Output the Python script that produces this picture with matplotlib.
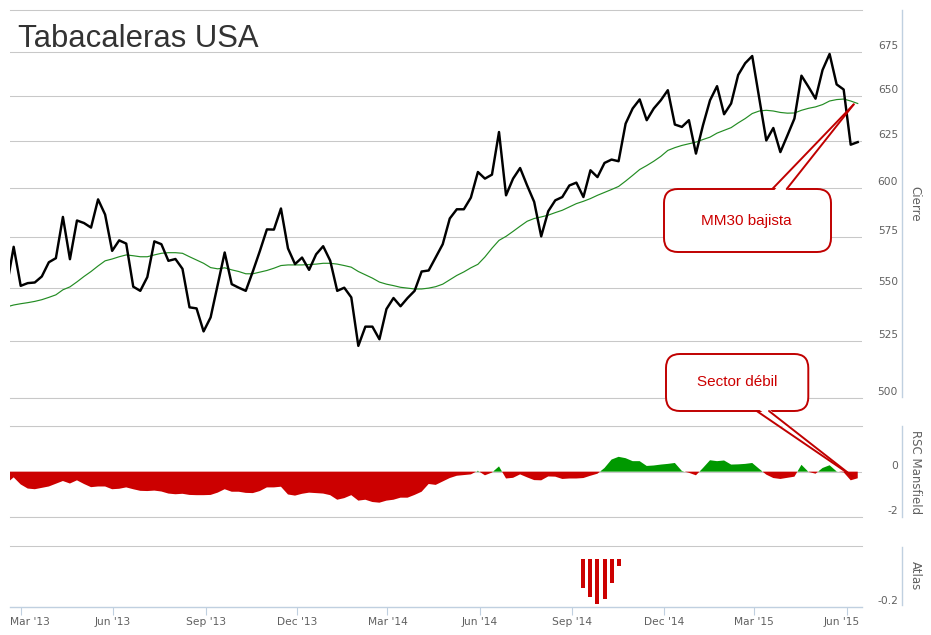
import matplotlib
matplotlib.use('Agg')
import matplotlib.pyplot as plt
import matplotlib.transforms as mtrans
from matplotlib.patches import FancyBboxPatch, Polygon
from matplotlib.lines import Line2D
from matplotlib.ticker import FixedLocator, NullLocator, NullFormatter
import numpy as np
import pandas as pd
from datetime import datetime, timedelta

# ---------------- data (weekly) ----------------
dates = pd.date_range('2013-02-15', periods=122, freq='7D')

close = [550.3,
         570.0, 551.0, 552.3, 552.6, 555.5, 562.4, 564.4, 585.0, 563.9, 583.2,
         581.9, 579.6, 594.0, 586.2, 568.0, 573.2, 571.6, 550.6, 548.6, 555.2,
         572.7, 571.3, 563.1, 564.0, 559.2, 540.8, 540.3, 529.6, 536.1, 551.4,
         567.2, 551.8, 550.1, 548.6, 557.9, 567.9, 578.7, 578.6, 589.3, 569.2,
         561.5, 564.7, 558.7, 566.3, 570.3, 563.2, 548.6, 550.1, 545.5, 523.0,
         531.8, 531.8, 526.0, 540.0, 545.2, 541.3, 545.2, 548.6, 557.9, 558.4,
         564.8, 571.3, 584.2, 588.9, 588.9, 594.9, 608.3, 604.8, 606.9, 629.8,
         596.1, 604.8, 610.4, 601.2, 592.7, 575.2, 587.9, 593.5, 595.2, 601.2,
         602.7, 595.2, 609.2, 605.6, 613.1, 614.9, 614.0, 634.4, 642.8, 647.9,
         636.3, 642.8, 647.4, 653.1, 633.9, 632.6, 636.3, 618.1, 633.5, 647.4,
         655.4, 639.6, 645.6, 661.8, 668.6, 672.8, 648.5, 625.2, 632.0, 618.9,
         627.9, 637.2, 661.4, 655.0, 648.3, 664.7, 674.0, 656.4, 653.5, 622.9,
         624.3]

mm30 = [541.0,
        541.9, 542.5, 543.0, 543.6, 544.4, 545.5, 546.7, 549.1, 550.5, 552.9,
        555.5, 557.9, 560.6, 563.1, 564.0, 565.1, 566.0, 565.6, 565.1, 565.1,
        566.0, 566.8, 567.1, 567.1, 566.8, 565.1, 563.5, 561.9, 559.8, 559.2,
        559.7, 558.7, 557.9, 556.8, 556.8, 557.6, 558.4, 559.5, 560.8, 561.1,
        561.1, 561.1, 561.3, 561.5, 561.9, 561.9, 561.5, 560.8, 560.0, 557.9,
        556.3, 554.7, 552.8, 551.8, 551.1, 550.3, 549.9, 549.5, 549.5, 549.9,
        550.6, 551.8, 553.9, 556.0, 557.7, 559.7, 561.4, 565.0, 569.3, 573.2,
        575.2, 577.7, 580.3, 582.8, 584.2, 585.0, 585.9, 587.2, 588.4, 590.1,
        591.8, 593.0, 594.4, 596.1, 597.6, 599.1, 600.7, 603.5, 606.5, 609.6,
        611.7, 614.0, 616.6, 619.8, 621.3, 622.5, 623.4, 624.3, 625.7, 627.0,
        629.2, 630.7, 632.2, 634.8, 637.2, 640.0, 641.4, 641.8, 641.4, 640.6,
        640.2, 640.3, 641.8, 642.9, 643.7, 645.0, 647.0, 647.8, 648.1, 647.0,
        645.6]

rsc = [-0.51,
       -0.25, -0.56, -0.74, -0.77, -0.71, -0.65, -0.53, -0.41, -0.52, -0.38,
       -0.54, -0.68, -0.65, -0.65, -0.77, -0.75, -0.69, -0.77, -0.84, -0.85,
       -0.83, -0.87, -0.96, -0.99, -0.97, -1.02, -1.03, -1.03, -1.02, -0.92,
       -0.77, -0.88, -0.88, -0.93, -0.94, -0.85, -0.69, -0.69, -0.66, -1.00,
       -1.05, -0.97, -0.92, -0.94, -0.96, -1.03, -1.23, -1.16, -1.03, -1.27,
       -1.23, -1.33, -1.36, -1.27, -1.23, -1.14, -1.14, -1.02, -0.88, -0.54,
       -0.58, -0.43, -0.28, -0.18, -0.15, -0.12, 0.04, -0.16, -0.04, 0.23,
       -0.30, -0.27, -0.12, -0.25, -0.37, -0.38, -0.21, -0.22, -0.32, -0.30,
       -0.30, -0.28, -0.18, -0.09, 0.16, 0.53, 0.65, 0.59, 0.46, 0.46,
       0.25, 0.27, 0.31, 0.34, 0.38, 0.03, -0.05, -0.16, 0.16, 0.50,
       0.46, 0.49, 0.31, 0.32, 0.34, 0.38, 0.12, -0.13, -0.28, -0.32,
       -0.27, -0.22, 0.30, -0.01, -0.09, 0.16, 0.28, 0.01, -0.03, -0.38,
       -0.29]

atlas_dates = pd.date_range('2014-09-12', periods=6, freq='7D')
atlas_vals = [-0.122, -0.160, -0.189, -0.169, -0.101, -0.028]

price_ticks = [500, 525, 550, 575, 600, 625, 650, 675]
rsc_ticks = [0, -2]
rsc_labels = ['0', '-2']
atlas_ticks = [-0.2]
atlas_labels = ['-0.2']
xtick_dates = [datetime(2013, 3, 1), datetime(2013, 6, 1), datetime(2013, 9, 1),
               datetime(2013, 12, 1), datetime(2014, 3, 1), datetime(2014, 6, 1),
               datetime(2014, 9, 1), datetime(2014, 12, 1), datetime(2015, 3, 1),
               datetime(2015, 6, 1)]
xtick_labels = ["Mar '13", "Jun '13", "Sep '13", "Dec '13", "Mar '14",
                "Jun '14", "Sep '14", "Dec '14", "Mar '15", "Jun '15"]

close = np.array(close)
mm30 = np.array(mm30)
rsc = np.array(rsc)

# ---------------- figure ----------------
W, H = 931, 635
fig = plt.figure(figsize=(W / 100, H / 100), dpi=100)
fig.patch.set_facecolor('white')

GRID = '#C8C8C8'
AXIS = '#C0D0E0'
LABEL = '#606060'
RED = '#CC0000'
GREEN = '#009900'
TICKFS = 7.7


def px_axes(x0, y0, x1, y1):
    return fig.add_axes([x0 / W, 1 - y1 / H, (x1 - x0) / W, (y1 - y0) / H])


ax = px_axes(10, 10.4, 862, 397.6)
ax_rsc = px_axes(10, 426, 862, 517.3)
ax_atl = px_axes(10, 545.7, 862, 606.7)

xmin = datetime(2013, 2, 18, 8, 24)
xmax = xmin + timedelta(days=847.9)

for a in (ax, ax_rsc, ax_atl):
    a.set_xlim(xmin, xmax)
    a.set_facecolor('none')
    for s in ('left', 'right'):
        a.spines[s].set_visible(False)
    a.set_axisbelow(True)
    a.tick_params(axis='y', left=False, right=False, labelleft=False, labelright=False)

for a in (ax, ax_rsc):
    a.tick_params(axis='x', bottom=False, labelbottom=False)
    a.set_xticks(xtick_dates)
    a.xaxis.set_major_formatter(NullFormatter())
    for s in ('top', 'bottom'):
        a.spines[s].set_color(GRID)
        a.spines[s].set_linewidth(0.75)


def right_labels(a, vals, labels):
    tr = mtrans.blended_transform_factory(a.transAxes, a.transData) + \
        mtrans.ScaledTranslation(0, 0.06, fig.dpi_scale_trans)
    xr = 1 + 36.0 / 852.0
    for v, l in zip(vals, labels):
        a.text(xr, v, l, transform=tr, ha='right', va='center',
               fontsize=TICKFS, color=LABEL, family='DejaVu Sans')


# ---- main price panel ----
ax.set_yscale('log')
ax.set_ylim(500, 700)
ax.yaxis.set_major_locator(FixedLocator(price_ticks))
ax.yaxis.set_minor_locator(NullLocator())
ax.yaxis.set_major_formatter(NullFormatter())
ax.yaxis.set_minor_formatter(NullFormatter())
ax.grid(axis='y', color=GRID, lw=0.75)
ax.plot(dates, mm30, color='#238C23', lw=0.85, zorder=3)
ax.plot(dates, close, color='black', lw=1.75, zorder=4)
right_labels(ax, price_ticks, [str(v) for v in price_ticks])

# ---- RSC Mansfield panel ----
ax_rsc.set_ylim(-2, 2)
ax_rsc.set_yticks([-2, 0, 2])
ax_rsc.yaxis.set_major_formatter(NullFormatter())
ax_rsc.grid(axis='y', color=GRID, lw=0.75)
ax_rsc.fill_between(dates, rsc, 0, where=rsc >= 0, interpolate=True,
                    color=GREEN, lw=0, zorder=3)
ax_rsc.fill_between(dates, rsc, 0, where=rsc <= 0, interpolate=True,
                    color=RED, lw=0, zorder=3)
right_labels(ax_rsc, rsc_ticks, rsc_labels)

# ---- Atlas panel ----
ax_atl.set_ylim(-0.2, 0.0574)
ax_atl.set_yticks([])
ax_atl.spines['top'].set_color(GRID)
ax_atl.spines['top'].set_linewidth(0.75)
ax_atl.spines['bottom'].set_color(AXIS)
ax_atl.spines['bottom'].set_linewidth(1.0)
ax_atl.bar(atlas_dates, atlas_vals, width=4.0, color=RED, lw=0, zorder=3)
right_labels(ax_atl, atlas_ticks, atlas_labels)

ax_atl.set_xticks(xtick_dates)
ax_atl.set_xticklabels(xtick_labels)
ax_atl.tick_params(axis='x', direction='out', length=5.8, width=0.8, color=AXIS,
                   labelcolor=LABEL, labelsize=TICKFS, pad=1.8)
lbls = ax_atl.get_xticklabels()
lbls[0].set_transform(lbls[0].get_transform() +
                      mtrans.ScaledTranslation(0.093, 0, fig.dpi_scale_trans))
lbls[-1].set_transform(lbls[-1].get_transform() +
                       mtrans.ScaledTranslation(-0.047, 0, fig.dpi_scale_trans))

# ---- right axis lines and titles ----
for y0, y1 in ((10, 397), (426, 517), (547, 605)):
    fig.add_artist(Line2D([901.7 / W, 901.7 / W], [1 - y0 / H, 1 - y1 / H],
                          transform=fig.transFigure, color=AXIS, lw=1.0))
for txt, yc in (('Cierre', 203.5), ('RSC Mansfield', 471.7), ('Atlas', 575.8)):
    fig.text(915 / W, 1 - yc / H, txt, rotation=270, ha='center', va='center',
             color=LABEL, fontsize=8.5, family='DejaVu Sans')

# ---- title ----
fig.text(18.3 / W, 1 - 46.7 / H, 'Tabacaleras USA', fontsize=22.3,
         family='Liberation Sans', color='#333333', ha='left', va='baseline')

# ---- callout annotations (overlay in pixel space) ----
ov = fig.add_axes([0, 0, 1, 1])
ov.set_xlim(0, W)
ov.set_ylim(H, 0)
ov.axis('off')
ov.patch.set_alpha(0)
ov.set_zorder(10)

EDGE = '#C00000'


def callout(x0, y0, x1, y1, ba, bb, by, tip, text, txy, inward):
    box = FancyBboxPatch((x0, y0), x1 - x0, y1 - y0,
                         boxstyle='round,pad=0,rounding_size=14',
                         facecolor='white', edgecolor=EDGE, lw=1.4, zorder=1)
    ov.add_patch(box)
    wedge = Polygon([(ba + 0.8, by + inward), (bb - 0.8, by + inward), tip],
                    closed=True, facecolor='white', edgecolor='none', zorder=2)
    ov.add_patch(wedge)
    ov.plot([ba, tip[0]], [by, tip[1]], color=EDGE, lw=1.4, zorder=3,
            solid_capstyle='round')
    ov.plot([bb, tip[0]], [by, tip[1]], color=EDGE, lw=1.4, zorder=3,
            solid_capstyle='round')
    ov.text(txy[0], txy[1], text, ha='center', va='center', color=RED,
            fontsize=11, family='Liberation Sans', zorder=4)


# tips point at the data via data transforms
def data_to_px(a, x, y):
    d = a.transData.transform((matplotlib.dates.date2num(x), y))
    return (d[0], H - d[1])


tip_mm = data_to_px(ax, datetime(2015, 6, 8), mm30[-1] - 0.5)
tip_rsc = data_to_px(ax_rsc, datetime(2015, 6, 7), -0.21)

callout(664, 189, 831, 252, 772.3, 786.7, 189, tip_mm, 'MM30 bajista',
        (746.5, 220.5), 2.5)
callout(666, 354, 808.3, 411, 756.7, 769, 411, tip_rsc, 'Sector débil',
        (737, 382.5), -2.5)

fig.savefig('out.png', dpi=100, facecolor='white')
